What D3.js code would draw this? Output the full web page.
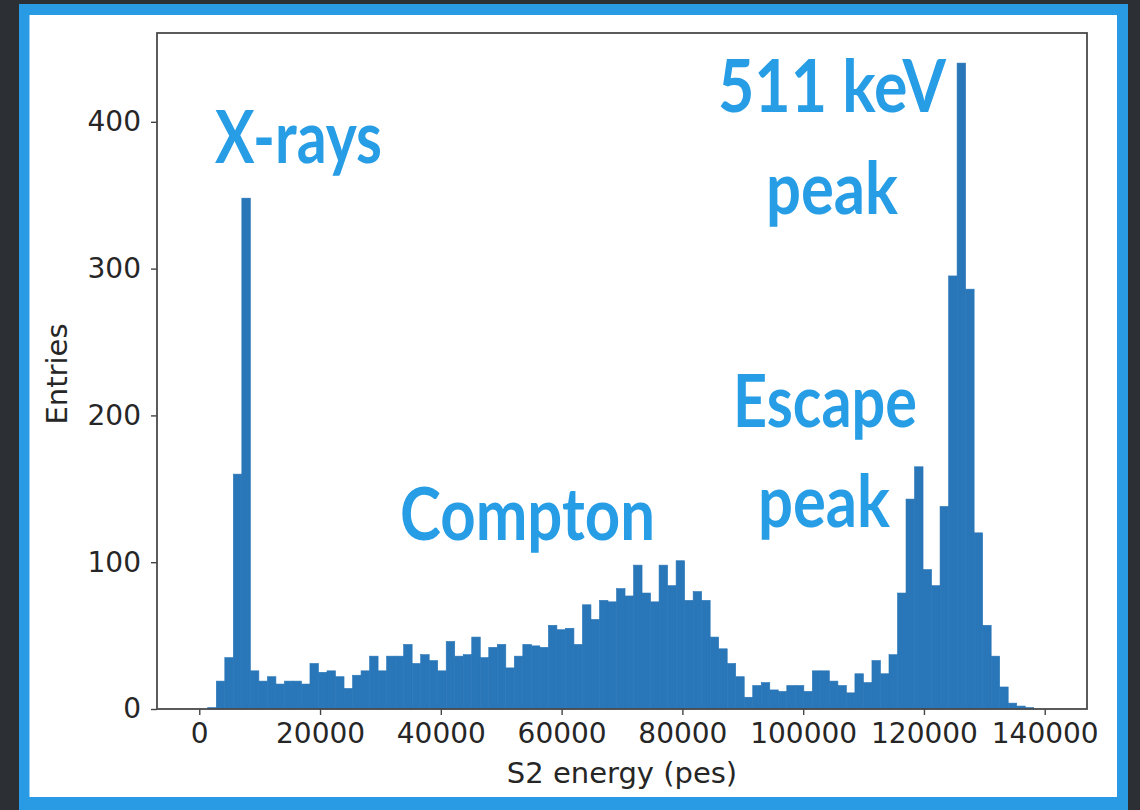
<!DOCTYPE html>
<html>
<head>
<meta charset="utf-8">
<script src="https://cdn.jsdelivr.net/npm/d3@7"></script>
<style>
  html, body { margin: 0; padding: 0; background: #2c2f33; }
  svg { display: block; }
</style>
</head>
<body>
<svg id="chart" width="1140" height="810"></svg>
<script>
// Histogram of S2 energy: 100 bins starting at 0 pes
const binStart = 0;
const binWidth = 1410;
const counts = [
  0, 1, 19, 35, 160, 348, 26, 19, 22, 17,
  19, 19, 17, 31, 25, 26, 22, 14, 23, 26,
  36, 26, 36, 36, 44, 31, 37, 33, 26, 46,
  36, 37, 49, 35, 42, 44, 28, 36, 44, 43,
  42, 57, 54, 55, 44, 71, 61, 74, 73, 82,
  77, 98, 79, 73, 98, 84, 101, 74, 80, 74,
  49, 41, 31, 22, 8, 16, 18, 13, 12, 16,
  16, 12, 26, 26, 19, 16, 11, 24, 18, 33,
  24, 37, 79, 143, 165, 95, 84, 138, 295, 440,
  286, 120, 57, 36, 15, 4, 2, 1, 0, 0
];
const xTicks = [0, 20000, 40000, 60000, 80000, 100000, 120000, 140000];
const yTicks = [0, 100, 200, 300, 400];
const xTitle = "S2 energy (pes)";
const yTitle = "Entries";
const annotations = [
  { lines: ["X-rays"] },
  { lines: ["511 keV", "peak"] },
  { lines: ["Escape", "peak"] },
  { lines: ["Compton"] }
];

const bins = counts.map((c, i) => ({ x0: binStart + i * binWidth, x1: binStart + (i + 1) * binWidth, count: c }));

const svg = d3.select("#chart");
const W = 1140, H = 810;
const plot = { left: 157, right: 1087, top: 33, bottom: 709 };
const barColor = "#2976b8";

// Frame: dark surround, blue border, white card
svg.append("rect").attr("width", W).attr("height", H).attr("fill", "#2c2f33");
svg.append("rect").attr("x", 19).attr("y", 4).attr("width", 1109).attr("height", 806).attr("fill", "#289be4");
svg.append("rect").attr("x", 29.5).attr("y", 15).attr("width", 1087.5).attr("height", 782).attr("fill", "#ffffff");

const x = d3.scaleLinear().domain([-7000, 147000]).range([plot.left, plot.right]);
const y = d3.scaleLinear().domain([0, 460.5]).range([plot.bottom, plot.top]);

// Bars (a thin same-colour stroke closes the seams between neighbours)
svg.append("g")
  .selectAll("rect")
  .data(bins.filter(d => d.count > 0))
  .join("rect")
  .attr("x", d => x(d.x0))
  .attr("width", d => x(d.x1) - x(d.x0))
  .attr("y", d => y(d.count))
  .attr("height", d => y(0) - y(d.count))
  .attr("fill", barColor)
  .attr("stroke", barColor)
  .attr("stroke-width", 0.6);

// Axes
const fontTick = "'DejaVu Sans', sans-serif";
const xAxis = svg.append("g")
  .attr("transform", `translate(0,${plot.bottom})`)
  .call(d3.axisBottom(x).tickValues(xTicks).tickFormat(d3.format("d")).tickSize(6).tickPadding(8));
const yAxis = svg.append("g")
  .attr("transform", `translate(${plot.left},0)`)
  .call(d3.axisLeft(y).tickValues(yTicks).tickFormat(d3.format("d")).tickSize(6).tickPadding(10));

[xAxis, yAxis].forEach(g => {
  g.select(".domain").remove();
  g.selectAll(".tick line").attr("stroke", "#444").attr("stroke-width", 1.4);
  g.selectAll(".tick text")
    .attr("fill", "#262626")
    .style("font-family", fontTick)
    .style("font-size", "28px");
});

// Axes frame (spines)
svg.append("rect")
  .attr("x", plot.left).attr("y", plot.top)
  .attr("width", plot.right - plot.left).attr("height", plot.bottom - plot.top)
  .attr("fill", "none").attr("stroke", "#4a4a4a").attr("stroke-width", 1.8);

// Axis titles
svg.append("text")
  .attr("x", (plot.left + plot.right) / 2).attr("y", 783)
  .attr("text-anchor", "middle")
  .attr("fill", "#262626")
  .style("font-family", fontTick).style("font-size", "29px")
  .text(xTitle);
svg.append("text")
  .attr("transform", `translate(67,${(plot.top + plot.bottom) / 2 + 3}) rotate(-90)`)
  .attr("text-anchor", "middle")
  .attr("fill", "#262626")
  .style("font-family", fontTick).style("font-size", "29px")
  .text(yTitle);

// Callout labels (bold, condensed to fit their boxes)
const calloutLayout = [
  [{ x: 215, y: 163, w: 167 }],
  [{ x: 718, y: 112, w: 228 }, { x: 766, y: 214, w: 132 }],
  [{ x: 733, y: 427, w: 184 }, { x: 758, y: 527, w: 132 }],
  [{ x: 400, y: 540, w: 255 }]
];
annotations.forEach((a, i) => {
  a.lines.forEach((line, j) => {
    const p = calloutLayout[i][j];
    svg.append("text")
      .attr("x", p.x).attr("y", p.y)
      .attr("textLength", p.w).attr("lengthAdjust", "spacingAndGlyphs")
      .attr("fill", "#279de6")
      .style("font-family", "Lato, 'Open Sans', sans-serif")
      .style("font-weight", 700)
      .style("font-size", "72px")
      .text(line);
  });
});
</script>
</body>
</html>
